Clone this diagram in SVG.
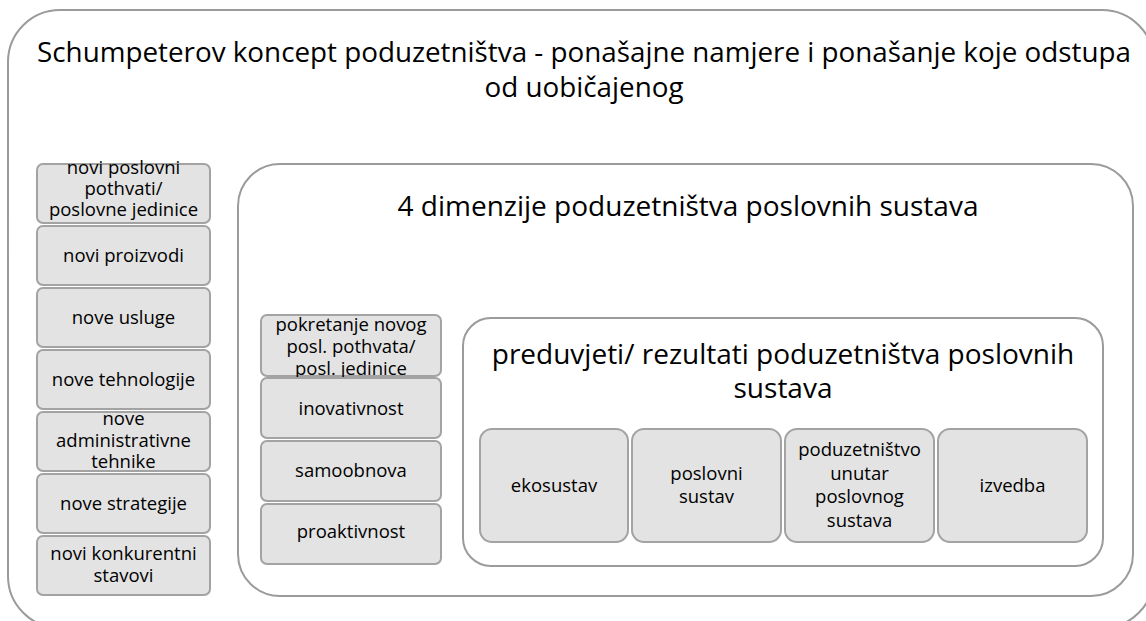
<svg xmlns="http://www.w3.org/2000/svg" width="1146" height="621" viewBox="0 0 1146 621">
<style>
.frame{fill:#ffffff;stroke:#9b9b9b;stroke-width:2}
.box{fill:#e3e3e3;stroke:#a3a3a3;stroke-width:2}
text{font-family:"Open Sans","Noto Sans",sans-serif;fill:#000;text-anchor:middle}
.t{font-size:18.5px}
.h1{font-size:27.8px}
.h2{font-size:28px}
</style>
<rect width="1146" height="621" fill="#ffffff"/>
<g id="outer">
<rect class="frame" x="8" y="10" width="1146" height="618" rx="52"/>
<text class="h1" x="584" y="62">Schumpeterov koncept poduzetništva - ponašajne namjere i ponašanje koje odstupa</text>
<text class="h1" x="584" y="97">od uobičajenog</text>
</g>
<g id="left1"><rect class="box" x="37" y="164" width="173" height="59" rx="6"/><text class="t" x="123.5" y="174">novi poslovni</text><text class="t" x="123.5" y="195">pothvati/</text><text class="t" x="123.5" y="216">poslovne jedinice</text></g>
<g id="left2"><rect class="box" x="37" y="226" width="173" height="59" rx="6"/><text class="t" x="123.5" y="262">novi proizvodi</text></g>
<g id="left3"><rect class="box" x="37" y="288" width="173" height="59" rx="6"/><text class="t" x="123.5" y="324">nove usluge</text></g>
<g id="left4"><rect class="box" x="37" y="350" width="173" height="59" rx="6"/><text class="t" x="123.5" y="386">nove tehnologije</text></g>
<g id="left5"><rect class="box" x="37" y="412" width="173" height="59" rx="6"/><text class="t" x="123.5" y="425">nove</text><text class="t" x="123.5" y="447">administrativne</text><text class="t" x="123.5" y="468">tehnike</text></g>
<g id="left6"><rect class="box" x="37" y="474" width="173" height="59" rx="6"/><text class="t" x="123.5" y="510">nove strategije</text></g>
<g id="left7"><rect class="box" x="37" y="536" width="173" height="59" rx="6"/><text class="t" x="123.5" y="560">novi konkurentni</text><text class="t" x="123.5" y="582">stavovi</text></g>
<g id="dimenzije">
<rect class="frame" x="238" y="164" width="895" height="432" rx="42"/>
<text class="h2" x="688" y="216">4 dimenzije poduzetništva poslovnih sustava</text>
</g>
<g id="mid1"><rect class="box" x="261" y="315" width="180" height="61" rx="6"/><text class="t" x="351" y="331">pokretanje novog</text><text class="t" x="351" y="353">posl. pothvata/</text><text class="t" x="351" y="375">posl. jedinice</text></g>
<g id="mid2"><rect class="box" x="261" y="378" width="180" height="60" rx="6"/><text class="t" x="351" y="415">inovativnost</text></g>
<g id="mid3"><rect class="box" x="261" y="441" width="180" height="60" rx="6"/><text class="t" x="351" y="477">samoobnova</text></g>
<g id="mid4"><rect class="box" x="261" y="504" width="180" height="60" rx="6"/><text class="t" x="351" y="538">proaktivnost</text></g>
<g id="preduvjeti">
<rect class="frame" x="463" y="318" width="640" height="248" rx="28"/>
<text class="h2" x="783" y="364">preduvjeti/ rezultati poduzetništva poslovnih</text>
<text class="h2" x="783" y="398">sustava</text>
</g>
<g id="eko"><rect class="box" x="480" y="429" width="148" height="113" rx="12"/><text class="t" x="554" y="492">ekosustav</text></g>
<g id="poslovni"><rect class="box" x="632" y="429" width="149" height="113" rx="12"/><text class="t" x="706.5" y="480">poslovni</text><text class="t" x="706.5" y="503">sustav</text></g>
<g id="unutar"><rect class="box" x="785" y="429" width="149" height="113" rx="12"/><text class="t" x="859.5" y="456">poduzetništvo</text><text class="t" x="859.5" y="480">unutar</text><text class="t" x="859.5" y="503">poslovnog</text><text class="t" x="859.5" y="527">sustava</text></g>
<g id="izvedba"><rect class="box" x="938" y="429" width="149" height="113" rx="12"/><text class="t" x="1012.5" y="492">izvedba</text></g>
<g id="connectors"></g>
</svg>
